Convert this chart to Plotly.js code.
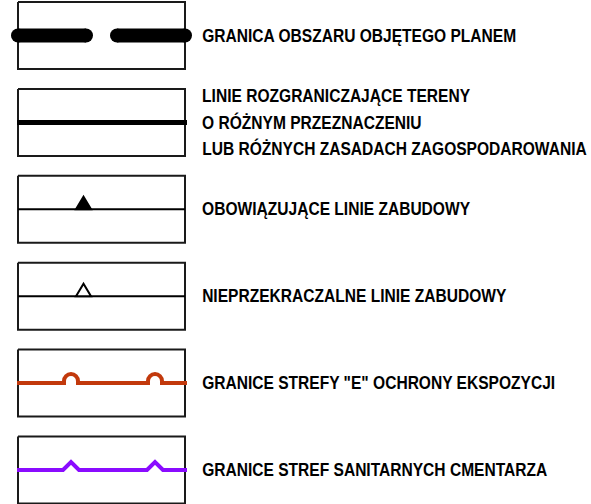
<!DOCTYPE html>
<html><head><meta charset="utf-8">
<script src="https://cdn.plot.ly/plotly-3.0.1.min.js"></script>
<style>html,body{margin:0;padding:0;background:#fff}#c{width:591px;height:504px}
/* condense the label text horizontally (narrow bold face), anchored at the label's left edge */
#c .infolayer g.annotation{transform-origin:202px 0;transform:scaleX(0.865)}
</style>
</head><body><div id="c"></div>
<script>
// ---- data ----
const labels = [
  ["GRANICA OBSZARU OBJĘTEGO PLANEM"],
  ["LINIE ROZGRANICZAJĄCE TERENY", "O RÓŻNYM PRZEZNACZENIU", "LUB RÓŻNYCH ZASADACH ZAGOSPODAROWANIA"],
  ["OBOWIĄZUJĄCE LINIE ZABUDOWY"],
  ["NIEPRZEKRACZALNE LINIE ZABUDOWY"],
  ["GRANICE STREFY \"E\" OCHRONY EKSPOZYCJI"],
  ["GRANICE STREF SANITARNYCH CMENTARZA"]
];
const symbolTypes = ["dashedThick", "solidThick", "triangleFilled", "triangleOpen", "arcBumps", "peakBumps"];

// ---- layout geometry ----
const boxLeft = 18, boxRight = 185, boxH = 67, firstTop = 2, rowStep = 86.9;
const textX = 199.5, lineSpacing = 26;
const bumpXs = [71, 155];
const font = {family: "Liberation Sans, Arial, sans-serif", size: 18, color: "#000", weight: "bold"};

const traces = [], shapes = [], annotations = [];

symbolTypes.forEach((t, i) => {
  const top = firstTop + i * rowStep, bot = top + boxH, mid = top + boxH / 2;
  // frame
  traces.push({x: [boxLeft, boxRight, boxRight, boxLeft, boxLeft], y: [top, top, bot, bot, top],
    mode: "lines", line: {color: "#1a1a1a", width: 2}, hoverinfo: "skip"});
  if (t === "dashedThick") {
    [[boxLeft, 86], [117, boxRight]].forEach(seg => {
      traces.push({x: seg, y: [mid, mid], mode: "lines+markers", line: {color: "#000", width: 14},
        marker: {color: "#000", size: 14, line: {width: 0}}, hoverinfo: "skip"});
    });
  } else if (t === "solidThick") {
    traces.push({x: [boxLeft - 1, boxRight + 2], y: [mid, mid], mode: "lines", line: {color: "#000", width: 5}, hoverinfo: "skip"});
  } else if (t === "triangleFilled" || t === "triangleOpen") {
    traces.push({x: [boxLeft, boxRight], y: [mid, mid], mode: "lines", line: {color: "#000", width: 2}, hoverinfo: "skip"});
    const cx = 83.5, hw = 7.5, h = 12.5;
    const filled = t === "triangleFilled";
    shapes.push({type: "path", xref: "x", yref: "y",
      path: `M ${cx - hw} ${mid} L ${cx} ${mid - h} L ${cx + hw} ${mid} Z`,
      fillcolor: filled ? "#000" : "#fff", line: {color: "#000", width: 2}});
  } else if (t === "arcBumps") {
    const r = 7, s = 2, k = 0.5523 * r;
    let p = `M ${boxLeft - 1} ${mid}`;
    bumpXs.forEach(cx => {
      p += ` L ${cx - r} ${mid} L ${cx - r} ${mid - s}` +
        ` C ${cx - r} ${mid - s - k} ${cx - k} ${mid - s - r} ${cx} ${mid - s - r}` +
        ` C ${cx + k} ${mid - s - r} ${cx + r} ${mid - s - k} ${cx + r} ${mid - s}` +
        ` L ${cx + r} ${mid}`;
    });
    p += ` L ${boxRight + 2} ${mid}`;
    shapes.push({type: "path", xref: "x", yref: "y", path: p, line: {color: "#c2390c", width: 4}});
  } else if (t === "peakBumps") {
    let p = `M ${boxLeft - 1} ${mid}`;
    bumpXs.forEach(cx => { p += ` L ${cx - 8} ${mid} L ${cx} ${mid - 8} L ${cx + 8} ${mid}`; });
    p += ` L ${boxRight + 2} ${mid}`;
    shapes.push({type: "path", xref: "x", yref: "y", path: p, line: {color: "#8a0cff", width: 4}});
  }
  const lines = labels[i];
  lines.forEach((txt, j) => {
    const y = mid + (j - (lines.length - 1) / 2) * lineSpacing;
    annotations.push({x: textX, y: y, xref: "x", yref: "y", text: txt, showarrow: false,
      xanchor: "left", yanchor: "middle", font: font});
  });
});

const layout = {
  width: 591, height: 504, margin: {l: 0, r: 0, t: 0, b: 0},
  paper_bgcolor: "#fff", plot_bgcolor: "#fff", showlegend: false,
  xaxis: {range: [0, 591], visible: false, fixedrange: true},
  yaxis: {range: [504, 0], visible: false, fixedrange: true},
  shapes: shapes, annotations: annotations
};
Plotly.newPlot("c", traces, layout, {staticPlot: true, displayModeBar: false});
</script></body></html>
